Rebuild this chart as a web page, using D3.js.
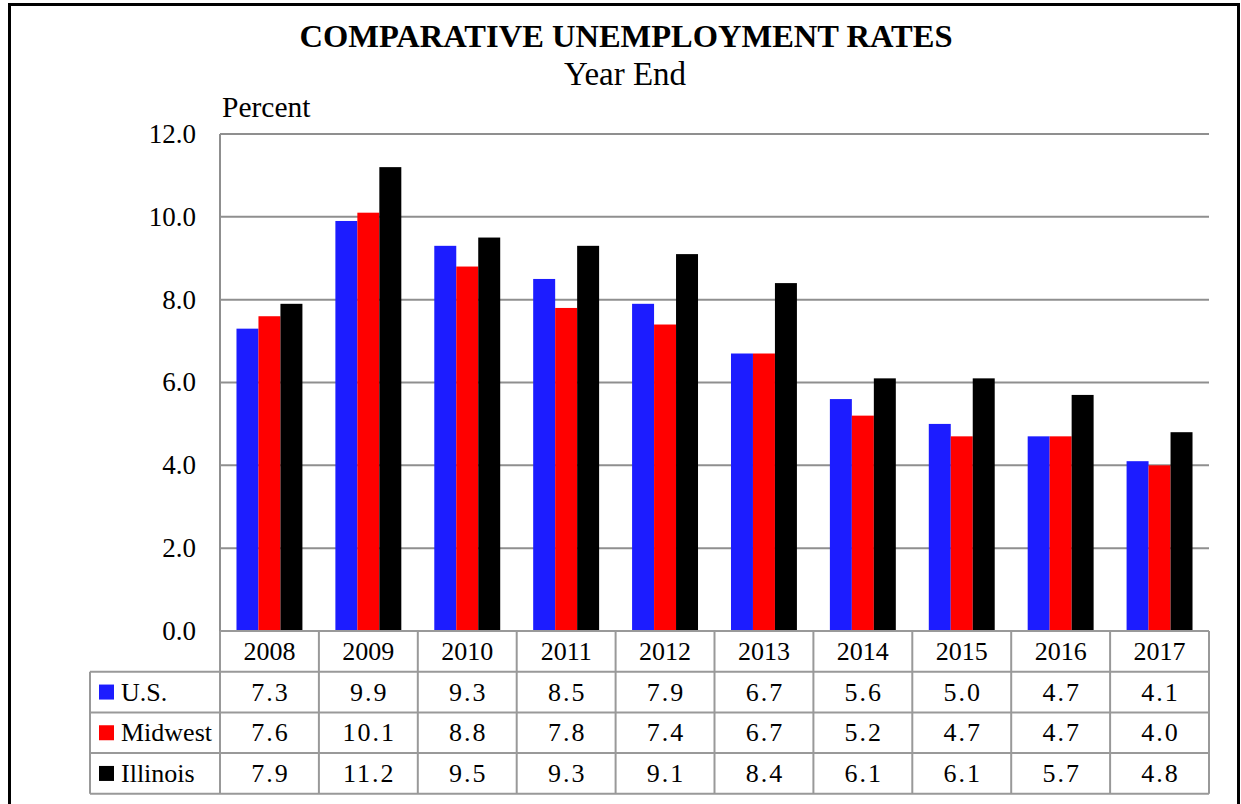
<!DOCTYPE html>
<html>
<head>
<meta charset="utf-8">
<script src="https://cdn.jsdelivr.net/npm/d3@7"></script>
</head>
<body style="margin:0; background:#fff">
<div id="chart"></div>
<script>
// data
let years = ["2008", "2009", "2010", "2011", "2012", "2013", "2014", "2015", "2016", "2017"];
let seriesNames = ["U.S.", "Midwest", "Illinois"];
let usRates = [7.3, 9.9, 9.3, 8.5, 7.9, 6.7, 5.6, 5.0, 4.7, 4.1];
let midwestRates = [7.6, 10.1, 8.8, 7.8, 7.4, 6.7, 5.2, 4.7, 4.7, 4.0];
let illinoisRates = [7.9, 11.2, 9.5, 9.3, 9.1, 8.4, 6.1, 6.1, 5.7, 4.8];
let yTicks = [0, 2, 4, 6, 8, 10, 12];
let seriesColors = ["#1c1cff", "#ff0000", "#000000"];

let allRates = [usRates, midwestRates, illinoisRates];

let width = 1241, height = 804;
let plotLeft = 220, plotRight = 1209, plotTop = 134, plotBottom = 631;
let rowH = 40.7;
let tableLeft = 90;
let serif = "Liberation Serif, Times New Roman, serif";

let svg = d3.select("#chart")
  .append("svg")
  .attr("width", width)
  .attr("height", height);

// outer frame (bottom edge falls below the picture)
svg.append("rect")
  .attr("x", 9.5).attr("y", 4.5)
  .attr("width", 1229).attr("height", 830)
  .attr("fill", "none")
  .attr("stroke", "#000")
  .attr("stroke-width", 3);

// titles
svg.append("text")
  .attr("x", 626).attr("y", 47)
  .attr("text-anchor", "middle")
  .attr("font-family", serif)
  .attr("font-size", 32.5)
  .attr("font-weight", "bold")
  .text("COMPARATIVE UNEMPLOYMENT RATES");

svg.append("text")
  .attr("x", 625).attr("y", 85)
  .attr("text-anchor", "middle")
  .attr("font-family", serif)
  .attr("font-size", 33)
  .text("Year End");

svg.append("text")
  .attr("x", 222).attr("y", 117)
  .attr("font-family", serif)
  .attr("font-size", 29.5)
  .text("Percent");

// scales
let x0 = d3.scaleBand()
  .domain(years)
  .range([plotLeft, plotRight])
  .padding(0);

let x1 = d3.scaleBand()
  .domain(seriesNames)
  .range([0, x0.bandwidth()])
  .paddingInner(0)
  .paddingOuter(0.75);

let y = d3.scaleLinear()
  .domain([0, 12])
  .range([plotBottom, plotTop]);

// gridlines
svg.append("g")
  .selectAll("line")
  .data(yTicks.filter(function(d) { return d > 0; }))
  .enter()
  .append("line")
  .attr("x1", plotLeft).attr("x2", plotRight)
  .attr("y1", function(d) { return y(d); })
  .attr("y2", function(d) { return y(d); })
  .attr("stroke", "#8f8f8f")
  .attr("stroke-width", 2);

// y axis line
svg.append("line")
  .attr("x1", plotLeft).attr("x2", plotLeft)
  .attr("y1", plotTop).attr("y2", plotBottom)
  .attr("stroke", "#8f8f8f")
  .attr("stroke-width", 2);

// y tick labels
svg.append("g")
  .selectAll("text")
  .data(yTicks)
  .enter()
  .append("text")
  .attr("x", 196)
  .attr("y", function(d) { return y(d); })
  .attr("dy", "0.33em")
  .attr("text-anchor", "end")
  .attr("font-family", serif)
  .attr("font-size", 27)
  .text(function(d) { return d3.format(".1f")(d); });

// bars
let groups = svg.append("g")
  .selectAll("g")
  .data(years)
  .enter()
  .append("g")
  .attr("transform", function(d) { return "translate(" + x0(d) + ",0)"; });

groups.selectAll("rect")
  .data(function(d, i) {
    return seriesNames.map(function(s, j) { return { key: s, value: allRates[j][i], idx: j }; });
  })
  .enter()
  .append("rect")
  .attr("x", function(d) { return x1(d.key); })
  .attr("width", x1.bandwidth())
  .attr("y", function(d) { return y(d.value); })
  .attr("height", function(d) { return plotBottom - y(d.value); })
  .attr("fill", function(d) { return seriesColors[d.idx]; });

// data table
let table = svg.append("g");
let gridColor = "#999";
let tableBottom = plotBottom + rowH * 4;

// horizontal lines
table.append("line")
  .attr("x1", plotLeft).attr("x2", plotRight)
  .attr("y1", plotBottom).attr("y2", plotBottom)
  .attr("stroke", gridColor).attr("stroke-width", 2);

for (let r = 1; r <= 4; r++) {
  table.append("line")
    .attr("x1", tableLeft).attr("x2", plotRight)
    .attr("y1", plotBottom + rowH * r).attr("y2", plotBottom + rowH * r)
    .attr("stroke", gridColor).attr("stroke-width", 2);
}

// vertical lines
table.append("line")
  .attr("x1", tableLeft).attr("x2", tableLeft)
  .attr("y1", plotBottom + rowH).attr("y2", tableBottom)
  .attr("stroke", gridColor).attr("stroke-width", 2);

table.selectAll(".vline")
  .data(years.concat(["end"]))
  .enter()
  .append("line")
  .attr("class", "vline")
  .attr("x1", function(d) { return d === "end" ? plotRight : x0(d); })
  .attr("x2", function(d) { return d === "end" ? plotRight : x0(d); })
  .attr("y1", plotBottom).attr("y2", tableBottom)
  .attr("stroke", gridColor).attr("stroke-width", 2);

// year header
table.selectAll(".yr")
  .data(years)
  .enter()
  .append("text")
  .attr("class", "yr")
  .attr("x", function(d) { return x0(d) + x0.bandwidth() / 2; })
  .attr("y", plotBottom + rowH / 2)
  .attr("dy", "0.33em")
  .attr("text-anchor", "middle")
  .attr("font-family", serif)
  .attr("font-size", 26)
  .text(function(d) { return d; });

// series rows
seriesNames.forEach(function(name, j) {
  let rowMid = plotBottom + rowH * (j + 1) + rowH / 2;

  table.append("rect")
    .attr("x", 99).attr("y", rowMid - 7.5)
    .attr("width", 15).attr("height", 15)
    .attr("fill", seriesColors[j]);

  table.append("text")
    .attr("x", 121).attr("y", rowMid)
    .attr("dy", "0.33em")
    .attr("font-family", serif)
    .attr("font-size", 26)
    .text(name);

  table.selectAll(".val" + j)
    .data(allRates[j])
    .enter()
    .append("text")
    .attr("class", "val" + j)
    .attr("x", function(d, i) { return x0(years[i]) + x0.bandwidth() / 2 + 1; })
    .attr("y", rowMid)
    .attr("dy", "0.33em")
    .attr("text-anchor", "middle")
    .attr("font-family", serif)
    .attr("font-size", 26)
    .attr("letter-spacing", 2)
    .text(function(d) { return d3.format(".1f")(d); });
});
</script>
</body>
</html>
